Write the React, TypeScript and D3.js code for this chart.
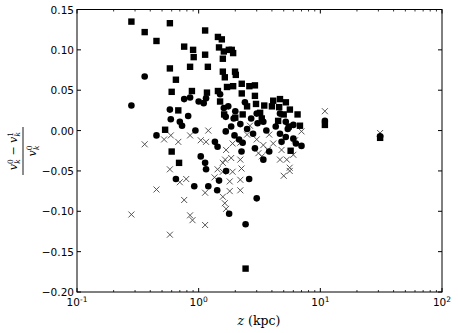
import * as d3 from 'd3';

// values: [z (kpc), (v0 - v1) / v0]
const squares: [number, number][] = [
  [0.28, 0.135], [0.58, 0.133], [0.36, 0.122], [0.45, 0.111], [1.13, 0.124],
  [1.44, 0.116], [1.55, 0.113], [0.76, 0.104], [0.9, 0.1], [1.47, 0.103],
  [1.61, 0.098], [1.77, 0.1], [1.87, 0.1], [1.92, 0.096], [1.13, 0.094],
  [0.91, 0.091], [1.58, 0.089], [0.58, 0.077], [0.85, 0.079], [1.19, 0.079],
  [1.58, 0.073], [1.64, 0.066], [1.99, 0.073], [2.02, 0.069], [0.65, 0.063],
  [0.6, 0.048], [0.88, 0.049], [1.17, 0.047], [1.44, 0.049], [1.71, 0.054],
  [1.92, 0.055], [2.26, 0.058], [2.61, 0.055], [2.9, 0.056], [2.26, 0.046],
  [2.9, 0.043], [2.96, 0.033], [3.46, 0.031], [4.1, 0.037], [4.66, 0.039],
  [5.21, 0.035], [4.59, 0.029], [5.62, 0.026], [0.68, 0.025], [0.53, 0.001],
  [0.6, -0.026], [0.69, -0.04], [2.43, -0.171], [10.9, 0.007], [31, -0.009],
  [1.5, 0.036], [1.62, 0.02], [2.0, 0.016], [2.5, 0.03], [3.2, 0.022],
  [4.5, 0.012], [5.5, 0.005], [6.8, 0.006], [5.7, -0.025], [4.0, 0.03],
  [2.3, 0.02], [3.3, 0.015], [5.0, 0.02], [6.5, 0.02],
];

const circles: [number, number][] = [
  [0.28, 0.031], [0.36, 0.067], [0.58, 0.026], [0.59, 0.014], [0.7, 0.011],
  [0.73, 0.006], [0.82, 0.018], [0.94, 0.0], [0.45, -0.006], [1.36, -0.014],
  [1.43, -0.02], [1.04, -0.032], [1.13, -0.04], [1.15, -0.048], [0.65, -0.06],
  [1.47, -0.062], [0.92, -0.069], [1.2, -0.069], [1.42, -0.074], [1.78, -0.103],
  [2.43, -0.116], [3.0, -0.084], [1.61, 0.028], [1.75, 0.03], [2.0, 0.024],
  [1.67, 0.017], [1.94, 0.015], [2.2, 0.008], [1.67, -0.001], [1.97, -0.006],
  [2.15, -0.011], [2.3, -0.015], [2.25, -0.026], [1.68, -0.05], [2.6, -0.06],
  [3.0, 0.021], [3.05, 0.009], [3.4, 0.011], [2.8, -0.004], [2.9, -0.022],
  [3.4, -0.036], [3.8, -0.026], [4.66, 0.021], [5.2, 0.011], [6.0, 0.007],
  [4.66, -0.004], [5.2, -0.008], [6.0, -0.01], [6.3, -0.016], [7.0, -0.019],
  [4.8, -0.014], [5.4, 0.002], [10.9, 0.012], [31, -0.007], [0.76, 0.039],
  [0.85, 0.041], [1.0, 0.036], [1.1, 0.034], [1.15, 0.04], [1.5, 0.045],
  [2.4, 0.035], [2.7, 0.015], [3.6, 0.0], [4.3, 0.005], [1.85, 0.005],
  [2.5, 0.002],
];

const crosses: [number, number][] = [
  [0.28, -0.104], [0.36, -0.017], [0.52, -0.011], [0.59, -0.006], [0.68, -0.014],
  [0.85, -0.006], [1.2, 0.0], [1.04, -0.012], [1.15, -0.014], [0.58, -0.048],
  [1.43, -0.048], [1.58, -0.051], [0.79, -0.06], [0.7, -0.064], [1.35, -0.058],
  [0.45, -0.073], [1.13, -0.077], [1.58, -0.082], [0.76, -0.086], [0.85, -0.105],
  [0.89, -0.111], [1.13, -0.117], [0.58, -0.129], [1.64, -0.09], [1.68, -0.097],
  [2.64, 0.006], [1.68, -0.024], [1.9, -0.016], [2.2, -0.015], [1.65, -0.036],
  [1.85, -0.034], [1.58, -0.04], [2.2, -0.036], [2.25, -0.047], [1.9, -0.051],
  [1.8, -0.063], [2.2, -0.061], [2.2, -0.074], [1.8, -0.075], [3.0, -0.011],
  [3.4, -0.018], [3.7, -0.024], [3.1, -0.028], [3.3, -0.032], [4.1, -0.016],
  [4.8, -0.024], [4.66, -0.036], [5.3, -0.036], [5.6, -0.046], [5.6, -0.05],
  [5.0, -0.056], [7.0, -0.001], [10.9, 0.024], [31, -0.003], [6.2, -0.012],
  [2.5, -0.005], [3.8, -0.005], [6.0, -0.03],
];

const yTicks = [0.15, 0.1, 0.05, 0.0, -0.05, -0.1, -0.15, -0.2];
const xDecades = [-1, 0, 1, 2];

function App() {
  const width = 458;
  const height = 333;
  const left = 77;
  const right = 442;
  const top = 9.5;
  const bottom = 292;

  const x = d3.scaleLog().domain([0.1, 100]).range([left, right]);
  const y = d3.scaleLinear().domain([-0.2, 0.15]).range([bottom, top]);

  const minor: number[] = [];
  for (let d = -1; d < 2; d++) {
    for (let m = 2; m < 10; m++) minor.push(m * Math.pow(10, d));
  }

  const font = 'DejaVu Sans';
  const serif = 'DejaVu Serif';

  return (
    <svg width={width} height={height} style={{ position: 'absolute', left: 0, top: 0 }}>
      <rect width={width} height={height} fill="white" />
      {/* markers */}
      {crosses.map((d, i) => (
        <path
          key={'x' + i}
          transform={`translate(${x(d[0])},${y(d[1])})`}
          d="M-3,-3L3,3M-3,3L3,-3"
          stroke="#444"
          strokeWidth={0.9}
          fill="none"
        />
      ))}
      {squares.map((d, i) => (
        <rect key={'s' + i} x={x(d[0]) - 3.2} y={y(d[1]) - 3.2} width={6.4} height={6.4} fill="black" />
      ))}
      {circles.map((d, i) => (
        <circle key={'c' + i} cx={x(d[0])} cy={y(d[1])} r={3.3} fill="black" />
      ))}

      {/* frame */}
      <rect x={left} y={top} width={right - left} height={bottom - top} fill="none" stroke="black" strokeWidth={1} />

      {/* y ticks */}
      {yTicks.map((t) => (
        <g key={'y' + t}>
          <line x1={left} x2={left + 4} y1={y(t)} y2={y(t)} stroke="black" />
          <line x1={right - 4} x2={right} y1={y(t)} y2={y(t)} stroke="black" />
          <text x={left - 3} y={y(t) + 4} textAnchor="end" fontFamily={font} fontSize={10.5}>
            {t < 0 ? '\u2212' + Math.abs(t).toFixed(2) : t.toFixed(2)}
          </text>
        </g>
      ))}

      {/* x ticks */}
      {minor.map((t) => (
        <g key={'m' + t}>
          <line x1={x(t)} x2={x(t)} y1={bottom} y2={bottom - 2} stroke="black" strokeWidth={0.8} />
          <line x1={x(t)} x2={x(t)} y1={top} y2={top + 2} stroke="black" strokeWidth={0.8} />
        </g>
      ))}
      {xDecades.map((p) => {
        const v = Math.pow(10, p);
        return (
          <g key={'d' + p}>
            <line x1={x(v)} x2={x(v)} y1={bottom} y2={bottom - 4} stroke="black" />
            <line x1={x(v)} x2={x(v)} y1={top} y2={top + 4} stroke="black" />
            <text x={x(v)} y={bottom + 14} textAnchor="middle" fontFamily={font} fontSize={10.5}>
              10
              <tspan dy={-4} fontSize={7.5}>
                {p < 0 ? '-' + Math.abs(p) : String(p)}
              </tspan>
            </text>
          </g>
        );
      })}

      {/* x label */}
      <text x={259} y={325} textAnchor="middle" fontFamily={serif} fontSize={12.5}>
        <tspan fontStyle="italic">z</tspan> (kpc)
      </text>

      {/* y label: (v_k^0 - v_k^1) / v_k^0 */}
      <g transform="translate(23,151) rotate(-90)" fontFamily={serif} fontSize={11}>
        <text x={0} y={-6} textAnchor="middle">
          <tspan fontStyle="italic">v</tspan>
          <tspan dy={-4} fontSize={7.5}>0</tspan>
          <tspan dx={-4.5} dy={7} fontSize={7.5} fontStyle="italic">k</tspan>
          <tspan dy={-3}> {'\u2212'} </tspan>
          <tspan fontStyle="italic">v</tspan>
          <tspan dy={-4} fontSize={7.5}>1</tspan>
          <tspan dx={-4.5} dy={7} fontSize={7.5} fontStyle="italic">k</tspan>
        </text>
        <line x1={-24} x2={24} y1={0} y2={0} stroke="black" strokeWidth={0.9} />
        <text x={0} y={13} textAnchor="middle">
          <tspan fontStyle="italic">v</tspan>
          <tspan dy={-4} fontSize={7.5}>0</tspan>
          <tspan dx={-4.5} dy={7} fontSize={7.5} fontStyle="italic">k</tspan>
        </text>
      </g>
    </svg>
  );
}

export default App;
